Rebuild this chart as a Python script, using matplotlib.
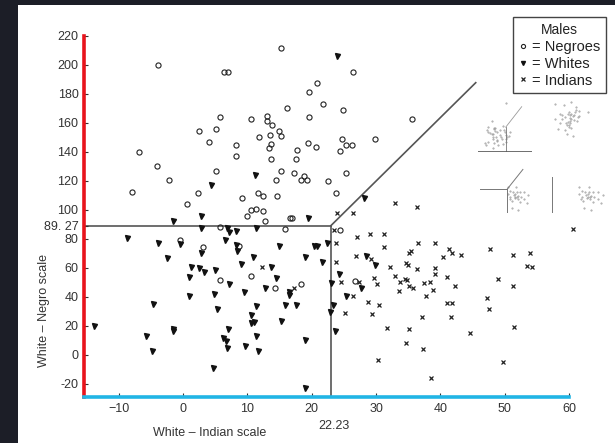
import matplotlib.pyplot as plt
from matplotlib.patches import Rectangle

plt.rcParams['font.family'] = ['Liberation Sans', 'DejaVu Sans']

# ── Data ──────────────────────────────────────────────────────────────
negro_x = [-3.9, 6.4, 7.0, 5.7, 2.5, 5.1, 4.0, 8.2, 8.2, -6.8, -4.1, -2.2, 5.1, -7.9,
           2.3, 0.6, 9.1, 9.9, 15.2, 26.4, 20.9, 19.6, 21.8, 16.2, 24.8, 10.6, 13.0,
           13.0, 19.6, 13.9, 14.9, 15.3, 11.8, 13.5, 13.6, 13.3, 19.4, 20.7, 17.7, 24.7,
           25.3, 26.2, 24.4, 29.9, 13.6, 17.5, 15.2, 17.3, 14.4, 18.4, 18.8, 19.2, 22.6,
           25.4, 11.6, 12.4, 14.6, 23.7, 10.6, 11.3, 12.4, 16.9, 35.6, 5.8, -0.4, 3.1,
           8.7, 5.7, 12.7, 16.6, 15.8, 24.4, 10.6, 14.3, 18.3, 26.8]
negro_y = [200, 195, 195, 164, 154.5, 156, 147, 145, 137, 140, 130, 121, 127, 112.6,
           111.5, 104, 108.5, 96, 212, 195, 187.6, 181.6, 173, 170, 168.7, 163, 164.6,
           161.5, 164, 158.6, 154.5, 151, 150.6, 151.7, 145.7, 143, 146, 143.4, 141.6, 148.7,
           144.6, 144.8, 140.5, 149, 135.4, 135, 127, 125.7, 121, 121, 123.4, 120.7, 120,
           125.7, 112, 109.7, 109.7, 111.5, 100, 100.5, 99, 94.7, 163, 88.3, 79.3, 74.5,
           75.4, 51.7, 92.4, 94.3, 86.7, 86.4, 54.5, 46, 49, 51]

white_x = [4.3, 2.8, 24.0, 11.2, 19.5, 28.1, -1.5, 2.8, 6.9, 7.1, 8.2, -8.7, -3.9, -0.4,
           -2.5, 2.8, 6.5, 8.3, 8.4, 9.0, 1.2, 2.5, 3.3, 1.0, 5.0, 7.2, 9.5, 1.0, 4.8,
           -4.7, 5.3, -13.8, -1.5, -1.5, -5.8, 7.0, 6.2, 6.6, -4.8, 6.8, 4.6, 11.3, 14.9,
           20.3, 20.9, 22.4, 10.8, 19.0, 21.6, 13.6, 14.4, 24.3, 23.0, 12.8, 16.5, 16.5,
           25.3, 15.8, 17.5, 11.4, 23.3, 22.9, 10.6, 11.0, 10.6, 15.2, 23.6, 11.4, 18.9,
           9.7, 11.6, 18.9, 28.4, 29.8, 27.6]
white_y = [117, 96, 206, 124, 94.7, 108.5, 92.4, 87.8, 87.4, 84.6, 85.5, 80.9, 77, 76.6,
           67, 70, 79, 76, 72, 63, 61, 60.2, 57.5, 54, 58.4, 48.8, 43.2, 41, 41.8,
           35.4, 31.7, 20.2, 17.7, 16.6, 13.3, 18, 11.5, 9.7, 2.8, 4.6, -8.7, 87.4, 75.4,
           75.4, 75.4, 77, 67.8, 67.3, 64.3, 60.5, 52.9, 55.9, 49.9, 46.4, 43.2, 41.4,
           41, 34.8, 34.8, 33.6, 34.8, 29.8, 27.6, 22.5, 22, 23.4, 16.5, 13.3, 10.6,
           6.2, 2.8, -22.5, 68.5, 62, 46]

indian_x = [24.0, 26.4, 32.9, 36.3, 23.4, 23.8, 23.8, 24.5, 25.2, 26.4, 12.3, 17.2, 27.1,
            29.1, 31.2, 31.2, 26.9, 29.2, 32.2, 32.9, 33.8, 34.5, 34.8, 35.1, 33.6, 29.7,
            30.2, 27.3, 28.7, 30.4, 29.4, 31.7, 34.6, 30.3, 35.1, 35.5, 34.6, 35.0, 36.3,
            36.5, 39.1, 40.4, 41.3, 41.8, 43.2, 47.7, 51.3, 54.0, 53.5, 54.2, 39.1, 39.2,
            41.0, 35.8, 37.4, 38.4, 38.8, 42.2, 48.9, 51.3, 37.8, 41.1, 41.8, 47.2, 47.5,
            37.2, 41.7, 35.2, 44.6, 51.4, 37.3, 49.8, 38.6, 60.6]
indian_y = [97.7, 97.7, 105, 102.3, 86.2, 77, 64.3, 50.6, 29.2, 40.7, 60.5, 46.4, 81.6,
            83.4, 83.2, 74.7, 68.5, 66, 60.9, 54.5, 50.6, 52.2, 51.7, 47.6, 44.1, 52.9,
            49, 50, 36.3, 34.5, 28, 18.8, 8.1, -3.4, 70, 71.7, 63.7, 61.8, 59,
            77, 77.4, 67.4, 72.8, 70.5, 69, 72.8, 69, 70.5, 61.5, 60.4, 60.2, 55.9,
            53.6, 46.4, 49.9, 50.6, 44.8, 47.8, 52.2, 47.8, 40.7, 36.1, 36.1, 39, 31.5,
            26.4, 26.4, 17.9, 15.4, 19.5, 3.9, -5, -16.1, 87]

# decision boundaries
x_cut, y_cut = 23.0, 89.27
diag_x, diag_y = 45.5, 187.8

x_ticks = [-10, 0, 10, 20, 30, 40, 50, 60]
y_ticks = [-20, 0, 20, 40, 60, 80, 100, 120, 140, 160, 180, 200, 220]

W, H = 615, 443

# ── Figure with dark scan frame ───────────────────────────────────────
fig = plt.figure(figsize=(W / 100, H / 100), dpi=100)
fig.patch.set_facecolor('#1c1e27')
fig.add_artist(Rectangle((18 / W, 0), 1 - 18 / W, 1 - 5 / H, transform=fig.transFigure,
                         facecolor='white', edgecolor='none', zorder=-1))

ax = fig.add_axes([84 / W, 1 - 397 / H, 485 / W, 361 / H])
ax.set_facecolor('none')
ax.set_xlim(-15.4, 60)
ax.set_ylim(-29, 220)

ink = '#222222'
h_n, = ax.plot(negro_x, negro_y, 'o', mfc='none', mec=ink, ms=3.7, mew=0.8, clip_on=False)
h_w, = ax.plot(white_x, white_y, 'v', color='#111111', ms=3.6, clip_on=False)
h_i, = ax.plot(indian_x, indian_y, 'x', color=ink, ms=3.4, mew=0.9, clip_on=False)

line_kw = dict(color='#555555', lw=1.2, zorder=1)
ax.plot([-15.4, x_cut], [y_cut, y_cut], **line_kw)
ax.plot([x_cut, x_cut], [-29, y_cut], **line_kw)
ax.plot([x_cut, diag_x], [y_cut, diag_y], **line_kw)

for s in ['top', 'right']:
    ax.spines[s].set_visible(False)
ax.spines['left'].set_color('#e8141c')
ax.spines['left'].set_linewidth(2.6)
ax.spines['bottom'].set_color('#21b5e5')
ax.spines['bottom'].set_linewidth(2.6)

ax.set_xticks(x_ticks)
ax.set_yticks(y_ticks + [y_cut])
ax.set_yticklabels([str(v) for v in y_ticks] + ['89. 27'])
ax.set_xticklabels([str(v).replace('-', '\u2212') for v in x_ticks])
ax.tick_params(direction='in', length=3, width=0.8, color='#333333',
               labelcolor='#333333', labelsize=9, pad=4)

ax.text(23.4, -0.065, '22.23', transform=ax.get_xaxis_transform(),
        ha='center', va='top', fontsize=9, color='#333333')
ax.text(0.26, -0.083, 'White \u2013 Indian scale', transform=ax.transAxes,
        ha='center', va='top', fontsize=9, color='#333333')
ax.text(-0.082, 0.24, 'White \u2013 Negro scale', transform=ax.transAxes,
        ha='center', va='center', rotation=90, fontsize=9, color='#333333')

leg = ax.legend([h_n, h_w, h_i], ['= Negroes', '= Whites', '= Indians'],
                title='Males', loc='upper right', bbox_to_anchor=(606 / W, 1 - 17 / H),
                bbox_transform=fig.transFigure, fontsize=10.5, title_fontsize=10,
                handlelength=0.6, handletextpad=0.3, labelspacing=0.2, borderpad=0.4,
                borderaxespad=0, fancybox=False, framealpha=1, edgecolor='#444444',
                markerscale=0.8)
leg.get_frame().set_linewidth(1.0)
leg.get_title().set_color('#222222')
for t in leg.get_texts():
    t.set_color('#222222')

# ── Faint thumbnails on the right ─────────────────────────────────────
thumbs = [(478, 100, 54, 52), (545, 100, 63, 52), (480, 163, 53, 50), (547, 163, 61, 50)]
faint = '#9a9a9a'
for k, (x0, y0, w, h) in enumerate(thumbs):
    t = fig.add_axes([x0 / W, 1 - (y0 + h) / H, w / W, h / H])
    t.set_xlim(-16, 60)
    t.set_ylim(-30, 220)
    t.axis('off')
    if k == 0:
        t.plot(white_x[::2], white_y[::2], '.', color=faint, ms=0.9)
        t.plot([x_cut, x_cut], [-30, y_cut], color='#777777', lw=0.6)
        t.plot([x_cut, diag_x], [y_cut, diag_y], color=faint, lw=0.6)
        t.plot([-16, 60], [-30, -30], color='#555555', lw=1.2)
    elif k == 1:
        t.plot(negro_x[::2], negro_y[::2], '.', color=faint, ms=0.9)
    elif k == 2:
        t.plot(indian_x[::3], indian_y[::3], '.', color=faint, ms=0.9)
        t.plot([-16, x_cut], [y_cut, y_cut], color='#777777', lw=0.7)
        t.plot([x_cut, x_cut], [-30, y_cut], color='#777777', lw=0.7)
        t.plot([x_cut, diag_x], [y_cut, diag_y], color='#777777', lw=0.7)
    else:
        t.plot(indian_x[::3], indian_y[::3], '.', color=faint, ms=0.9)
        t.plot([-10, -10], [-30, 150], color='#777777', lw=0.7)

fig.savefig('out.png', dpi=100, facecolor=fig.get_facecolor())
